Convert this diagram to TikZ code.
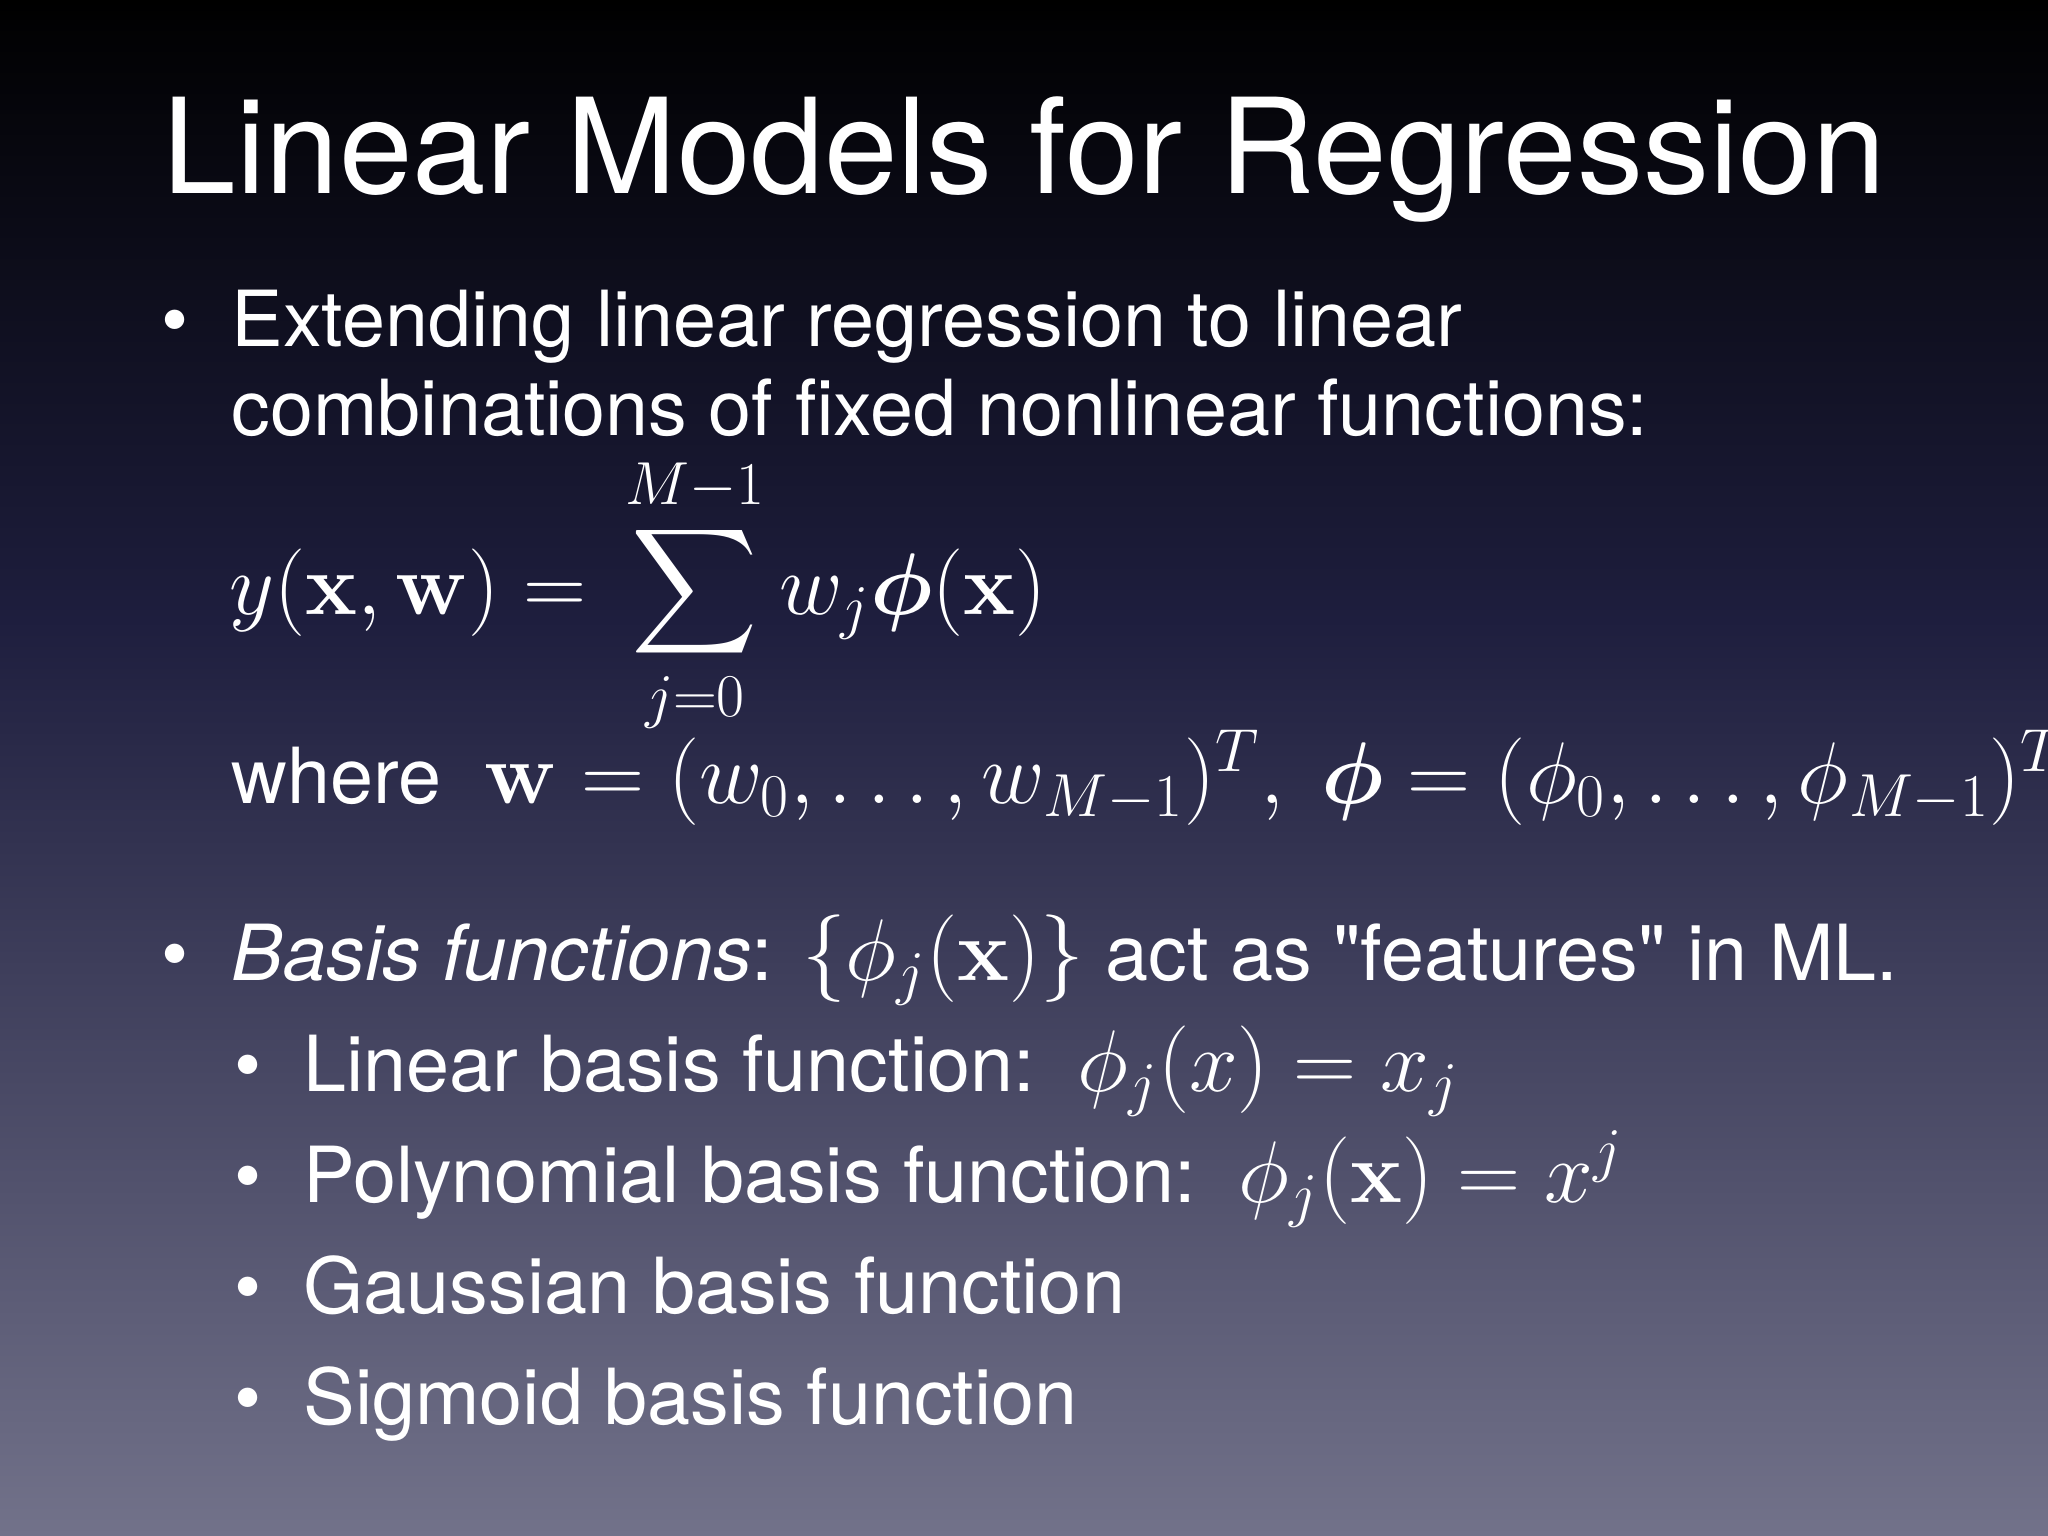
\documentclass[tikz,border=0pt]{standalone}
\usepackage[no-math]{fontspec}
\setmainfont{TeX Gyre Heros}
\usepackage{amsmath,bm}
\newcommand{\mm}[1]{{\fontsize{23}{27}\selectfont$#1$}}
\begin{document}
\begin{tikzpicture}[x=0.01cm,y=-0.01cm,
  body/.style={anchor=base west,inner sep=0,text=white,font=\fontsize{22}{26}\selectfont},
  bul/.style={anchor=base,inner sep=0,text=white,font=\fontsize{22}{26}\selectfont}]
\useasboundingbox (0,0) rectangle (2048,1536);
\shade[top color=black,bottom color={rgb,255:red,30;green,30;blue,62}] (0,0) rectangle (2048,620);
\shade[top color={rgb,255:red,30;green,30;blue,62},bottom color={rgb,255:red,114;green,114;blue,138}] (0,619) rectangle (2048,1536);
\node[anchor=base west,inner sep=0,text=white,font=\fontsize{37.6}{44}\selectfont] (title) at (162,193) {Linear Models for Regression};
\node[bul] (b1) at (175,346) {•};
\node[body] (t1a) at (231,346) {Extending linear regression to linear};
\node[body] (t1b) at (231,435) {combinations of fixed nonlinear functions:};
\node[body] (eq) at (229,614) {\mm{\displaystyle y(\mathbf{x},\mathbf{w}) =\, \sum_{j=0}^{M-1} w_j\bm{\phi}(\mathbf{x})}};
\node[body] (where) at (231,803) {where\ \ \mm{\mathbf{w}=(w_0,\ldots,w_{M-1})^T,\ \bm{\phi}=(\phi_0,\ldots,\phi_{M-1})^T}};
\node[bul] (b2) at (175,980) {•};
\node[body] (t2) at (231,980) {\textit{Basis functions}: \mm{\{\phi_j(\mathbf{x})\}}\ act as \textquotedbl features\textquotedbl\ in ML.};
\node[bul] (s1) at (248,1091) {•};
\node[body] (u1) at (303,1091) {Linear basis function:\ \ \mm{\phi_j(x)=x_j}};
\node[bul] (s2) at (248,1202) {•};
\node[body] (u2) at (303,1202) {Polynomial basis function:\ \ \mm{\phi_j(\mathbf{x})=x^j}};
\node[bul] (s3) at (248,1313) {•};
\node[body] (u3) at (303,1313) {Gaussian basis function};
\node[bul] (s4) at (248,1424) {•};
\node[body] (u4) at (303,1424) {Sigmoid basis function};
\end{tikzpicture}
\end{document}
